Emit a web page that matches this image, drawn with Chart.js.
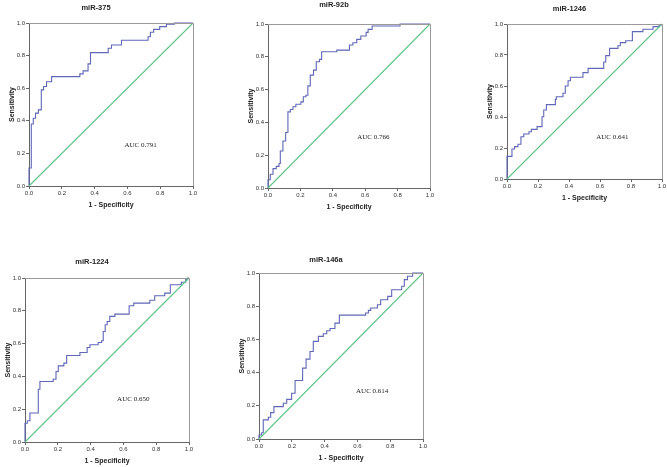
<!DOCTYPE html>
<html>
<head>
<meta charset="utf-8">
<script src="https://cdn.jsdelivr.net/npm/chart.js@4/dist/chart.umd.min.js"></script>
<style>
  html, body { margin: 0; padding: 0; background: #fff; overflow: hidden; }
  #wrap { position: relative; width: 667px; height: 467px; overflow: hidden; }
  canvas { position: absolute; }
</style>
</head>
<body>
<div id="wrap"></div>
<script>
const titles = ["miR-375", "miR-92b", "miR-1246", "miR-1224", "miR-146a"];
const aucLabels = ["AUC 0.791", "AUC 0.766", "AUC 0.641", "AUC 0.650", "AUC 0.614"];
const tickValues = [0, 0.2, 0.4, 0.6, 0.8, 1.0];

// step corners of each ROC curve (1 - specificity, sensitivity)
const fpr375 = [0, 0, 0.014, 0.026, 0.04, 0.057, 0.075, 0.089, 0.107, 0.138, 0.31, 0.33, 0.36, 0.375, 0.483, 0.503, 0.564, 0.726, 0.74, 0.76, 0.797, 0.838, 0.886, 1.0];
const tpr375 = [0, 0.11, 0.38, 0.416, 0.447, 0.467, 0.59, 0.61, 0.64, 0.671, 0.688, 0.706, 0.749, 0.818, 0.845, 0.865, 0.894, 0.916, 0.943, 0.961, 0.978, 0.992, 1.0, 1.0];

const fpr92b = [0, 0, 0.014, 0.031, 0.051, 0.068, 0.076, 0.092, 0.109, 0.123, 0.138, 0.154, 0.172, 0.203, 0.218, 0.234, 0.246, 0.261, 0.281, 0.298, 0.318, 0.331, 0.425, 0.503, 0.524, 0.548, 0.573, 0.606, 0.618, 0.643, 0.815, 1.0];
const tpr92b = [0, 0.05, 0.084, 0.118, 0.132, 0.149, 0.226, 0.287, 0.338, 0.464, 0.479, 0.495, 0.511, 0.525, 0.556, 0.566, 0.623, 0.688, 0.719, 0.77, 0.784, 0.831, 0.841, 0.872, 0.886, 0.906, 0.927, 0.949, 0.967, 0.988, 1.0, 1.0];

const fpr1246 = [0, 0, 0.032, 0.049, 0.071, 0.09, 0.108, 0.142, 0.157, 0.194, 0.226, 0.237, 0.254, 0.312, 0.318, 0.361, 0.376, 0.394, 0.409, 0.49, 0.523, 0.624, 0.637, 0.662, 0.716, 0.731, 0.766, 0.809, 0.877, 0.942, 0.981, 1.0];
const tpr1246 = [0, 0.146, 0.194, 0.209, 0.224, 0.273, 0.29, 0.305, 0.32, 0.338, 0.402, 0.445, 0.48, 0.514, 0.531, 0.553, 0.6, 0.634, 0.656, 0.686, 0.714, 0.755, 0.796, 0.843, 0.86, 0.88, 0.892, 0.951, 0.966, 0.983, 0.994, 1.0];

const fpr1224 = [0, 0, 0.014, 0.03, 0.081, 0.091, 0.172, 0.189, 0.203, 0.237, 0.254, 0.335, 0.379, 0.396, 0.446, 0.467, 0.477, 0.489, 0.501, 0.517, 0.548, 0.635, 0.663, 0.761, 0.791, 0.852, 0.886, 0.953, 0.98, 0.99, 1.0];
const tpr1224 = [0, 0.114, 0.13, 0.177, 0.322, 0.369, 0.383, 0.43, 0.464, 0.481, 0.527, 0.546, 0.576, 0.593, 0.607, 0.617, 0.674, 0.715, 0.735, 0.766, 0.78, 0.831, 0.847, 0.864, 0.892, 0.908, 0.959, 0.974, 0.99, 1.0, 1.0];

const fpr146a = [0, 0, 0.016, 0.026, 0.057, 0.071, 0.091, 0.148, 0.169, 0.199, 0.22, 0.266, 0.287, 0.311, 0.331, 0.362, 0.392, 0.413, 0.433, 0.463, 0.49, 0.65, 0.667, 0.681, 0.722, 0.742, 0.785, 0.809, 0.87, 0.886, 0.905, 0.937, 1.0];
const tpr146a = [0, 0.024, 0.038, 0.115, 0.131, 0.159, 0.195, 0.215, 0.239, 0.276, 0.352, 0.427, 0.481, 0.527, 0.588, 0.618, 0.634, 0.652, 0.666, 0.698, 0.746, 0.759, 0.775, 0.789, 0.809, 0.839, 0.859, 0.899, 0.92, 0.96, 0.98, 1.0, 1.0];

const diagX = [0, 1];
const diagY = [0, 1];

// plot-area placement of each panel on the page
const panels = [
    { fpr: fpr375,  tpr: tpr375,  left: 29,  top: 23,  w: 164, h: 163, titleY: 9,  aucX: 0.68, aucY: 0.25 },
    { fpr: fpr92b,  tpr: tpr92b,  left: 268, top: 24,  w: 162, h: 164, titleY: 5,  aucX: 0.65, aucY: 0.31 },
    { fpr: fpr1246, tpr: tpr1246, left: 507, top: 24,  w: 155, h: 155, titleY: 9,  aucX: 0.68, aucY: 0.27 },
    { fpr: fpr1224, tpr: tpr1224, left: 25,  top: 278, w: 164, h: 164, titleY: 8,  aucX: 0.66, aucY: 0.26 },
    { fpr: fpr146a, tpr: tpr146a, left: 259, top: 273, w: 164, h: 166, titleY: 11, aucX: 0.69, aucY: 0.29 },
];

const Y_AXIS_W = 30;
const X_AXIS_H = 28;
const TOP_SPACE = 24;
const RIGHT_SPACE = 8;

const sans = "'Liberation Sans', Arial, sans-serif";
const serif = "'Liberation Serif', 'Times New Roman', serif";

function toPoints(xs, ys) {
    return xs.map((x, i) => ({ x: x, y: ys[i] }));
}

const framePlugin = {
    id: "frame",
    afterDatasetsDraw(chart, args, opts) {
        const a = chart.chartArea;
        const ctx = chart.ctx;
        ctx.save();
        ctx.strokeStyle = "#9a9a9a";
        ctx.lineWidth = 1;
        ctx.beginPath();
        ctx.moveTo(a.left, a.top + 0.5);
        ctx.lineTo(a.right + 0.5, a.top + 0.5);
        ctx.lineTo(a.right + 0.5, a.bottom);
        ctx.stroke();

        ctx.fillStyle = "#222";
        ctx.font = "7px " + serif;
        ctx.textAlign = "center";
        ctx.textBaseline = "middle";
        ctx.fillText(opts.text, chart.scales.x.getPixelForValue(opts.x), chart.scales.y.getPixelForValue(opts.y));
        ctx.restore();
    }
};

function makeChart(p, i) {
    const canvas = document.createElement("canvas");
    const cw = p.w + Y_AXIS_W + RIGHT_SPACE;
    const ch = p.h + TOP_SPACE + X_AXIS_H;
    canvas.width = cw;
    canvas.height = ch;
    canvas.style.width = cw + "px";
    canvas.style.height = ch + "px";
    canvas.style.left = (p.left - Y_AXIS_W) + "px";
    canvas.style.top = (p.top - TOP_SPACE) + "px";
    document.getElementById("wrap").appendChild(canvas);

    const padTop = Math.max(0, p.titleY - 4.5);

    const axisBase = {
        type: "linear",
        min: 0,
        max: 1,
        afterBuildTicks: (scale) => { scale.ticks = tickValues.map(v => ({ value: v })); },
        ticks: {
            font: { family: sans, size: 6 },
            color: "#333",
            padding: 1,
            callback: (v) => Number(v).toFixed(1),
        },
        grid: { drawOnChartArea: false, drawTicks: true, tickLength: 3, color: "#666" },
        border: { display: true, color: "#666", width: 1 },
    };

    return new Chart(canvas, {
        type: "line",
        data: {
            datasets: [
                {
                    data: toPoints(diagX, diagY),
                    borderColor: "#5fc488",
                    borderWidth: 1.1,
                    pointRadius: 0,
                    clip: 2,
                },
                {
                    data: toPoints(p.fpr, p.tpr),
                    borderColor: "#5f67b6",
                    borderWidth: 1.1,
                    pointRadius: 0,
                    stepped: "before",
                    clip: 2,
                },
            ],
        },
        options: {
            responsive: false,
            animation: false,
            devicePixelRatio: 1,
            layout: { padding: { top: 0, right: RIGHT_SPACE, bottom: 0, left: 0 } },
            plugins: {
                legend: { display: false },
                tooltip: { enabled: false },
                title: {
                    display: true,
                    text: titles[i],
                    color: "#222",
                    font: { family: sans, size: 7.5, weight: "bold", lineHeight: 1.2 },
                    padding: { top: padTop, bottom: TOP_SPACE - 9 - padTop },
                },
                frame: { text: aucLabels[i], x: p.aucX, y: p.aucY },
            },
            scales: {
                x: {
                    ...axisBase,
                    position: "bottom",
                    afterFit: (scale) => { scale.height = X_AXIS_H; },
                    title: {
                        display: true,
                        text: "1 - Specificity",
                        color: "#222",
                        font: { family: sans, size: 7, weight: "bold", lineHeight: 1.2 },
                        padding: { top: 0, bottom: 5 },
                    },
                },
                y: {
                    ...axisBase,
                    position: "left",
                    afterFit: (scale) => { scale.width = Y_AXIS_W; },
                    title: {
                        display: true,
                        text: "Sensitivity",
                        color: "#222",
                        font: { family: sans, size: 7, weight: "bold", lineHeight: 1.2 },
                        padding: { top: 9, bottom: 0 },
                    },
                },
            },
        },
        plugins: [framePlugin],
    });
}

let charts = [];
panels.forEach((p, i) => {
    charts.push(makeChart(p, i));
});
</script>
</body>
</html>
